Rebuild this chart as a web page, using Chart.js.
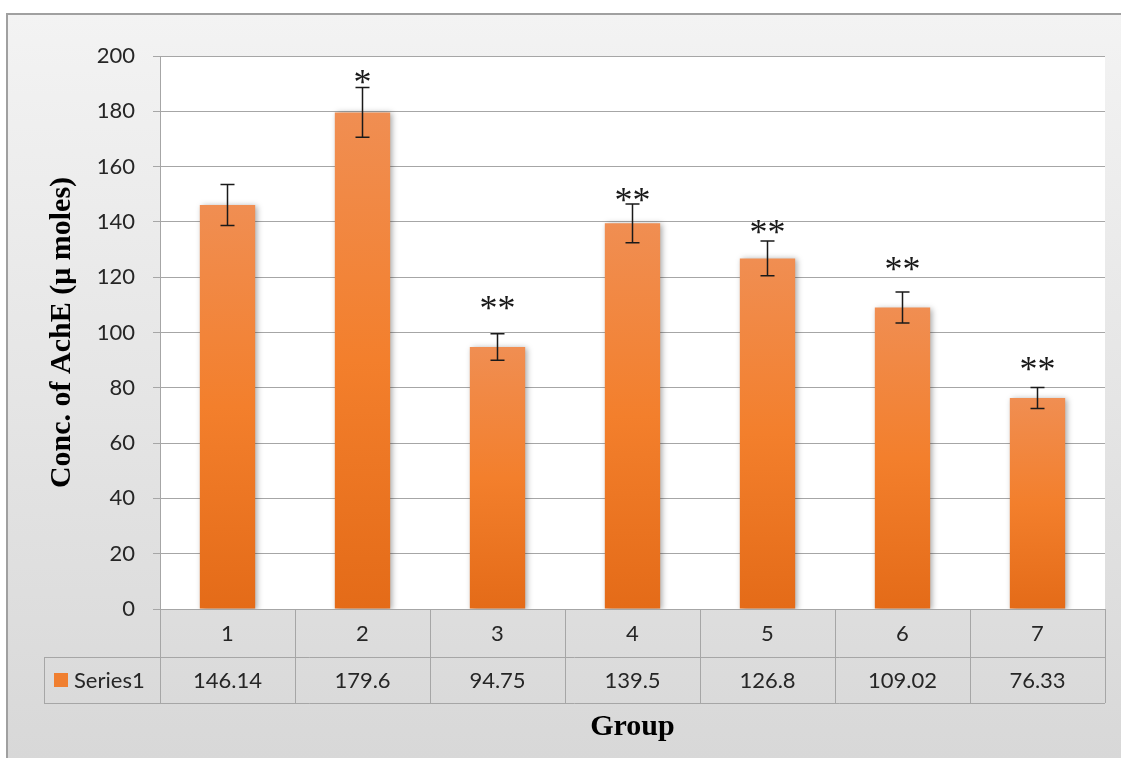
<!DOCTYPE html>
<html>
<head>
<meta charset="utf-8">
<script src="https://cdn.jsdelivr.net/npm/chart.js@4.4.1/dist/chart.umd.min.js"></script>
<style>
html,body{margin:0;padding:0;background:#fff;}
canvas{display:block;}
</style>
</head>
<body>
<canvas id="c" width="1121" height="758"></canvas>
<script>
// ---- data ----
const groups = ['1','2','3','4','5','6','7'];
const seriesName = 'Series1';
const values = [146.14, 179.6, 94.75, 139.5, 126.8, 109.02, 76.33];
const valueLabels = ['146.14','179.6','94.75','139.5','126.8','109.02','76.33'];
const errors = [7.4, 9.0, 4.8, 7.0, 6.3, 5.6, 3.8];
const significance = ['', '*', '**', '**', '**', '**', '**'];
const significanceLevel = [null, 192.4, 110.7, 149.7, 138.2, 124.8, 88.6];
const yTitle = 'Conc. of AchE (\u03bc moles)';
const xTitle = 'Group';

const PLOT_LEFT = 160, PLOT_TOP = 56, PLOT_BOTTOM = 609, PLOT_RIGHT = 1105;
const ROW1_BOTTOM = 657, ROW2_BOTTOM = 703, LEGEND_LEFT = 44;
const gridColor = '#a6a6a6';
const tickFont = '22px Lato';

function barGradient(ctx) {
  const chart = ctx.chart;
  if (!chart.chartArea || ctx.raw == null) return '#F07F30';
  const y = chart.scales.y;
  const top = y.getPixelForValue(ctx.raw);
  const bottom = y.getPixelForValue(0);
  const g = chart.ctx.createLinearGradient(0, top, 0, bottom);
  g.addColorStop(0, '#F08E52');
  g.addColorStop(0.5, '#F37F2C');
  g.addColorStop(1, '#E46B18');
  return g;
}

const backgroundPlugin = {
  id: 'bg',
  beforeDraw(chart) {
    const c = chart.ctx;
    c.save();
    c.fillStyle = '#ffffff';
    c.fillRect(0, 0, chart.width, chart.height);
    const g = c.createLinearGradient(0, 14, 0, chart.height);
    g.addColorStop(0, '#f3f3f3');
    g.addColorStop(1, '#d8d8d8');
    c.fillStyle = g;
    c.fillRect(7, 14, chart.width - 7, chart.height - 14);
    c.strokeStyle = '#a0a0a0';
    c.lineWidth = 2;
    c.beginPath();
    c.moveTo(7, chart.height);
    c.lineTo(7, 14);
    c.lineTo(chart.width, 14);
    c.stroke();
    const a = chart.chartArea;
    c.fillStyle = '#ffffff';
    c.fillRect(a.left, a.top, a.right - a.left, a.bottom - a.top);
    c.restore();
  }
};

const shadowPlugin = {
  id: 'shadow',
  beforeDatasetsDraw(chart) {
    const c = chart.ctx;
    c.save();
    c.shadowColor = 'rgba(0,0,0,0.35)';
    c.shadowBlur = 6;
    c.shadowOffsetX = 2;
    c.shadowOffsetY = 1;
  },
  afterDatasetsDraw(chart) {
    chart.ctx.restore();
  }
};

const errorPlugin = {
  id: 'errs',
  afterDatasetsDraw(chart) {
    const c = chart.ctx;
    const meta = chart.getDatasetMeta(0);
    const y = chart.scales.y;
    c.save();
    c.strokeStyle = '#1a1a1a';
    c.lineWidth = 1.5;
    c.font = '36px "Liberation Serif"';
    const m = c.measureText('*');
    const centerOff = (m.actualBoundingBoxAscent - m.actualBoundingBoxDescent) / 2;
    meta.data.forEach((bar, i) => {
      const x = bar.x;
      const t = y.getPixelForValue(values[i] + errors[i]);
      const b = y.getPixelForValue(values[i] - errors[i]);
      c.beginPath();
      c.moveTo(x, t); c.lineTo(x, b);
      c.moveTo(x - 7, t); c.lineTo(x + 7, t);
      c.moveTo(x - 7, b); c.lineTo(x + 7, b);
      c.stroke();
      const s = significance[i];
      if (s) {
        c.fillStyle = '#1a1a1a';
        c.textAlign = 'center';
        c.textBaseline = 'alphabetic';
        const cy = y.getPixelForValue(significanceLevel[i]) + centerOff;
        const k = s.length;
        for (let j = 0; j < k; j++) {
          const dx = (j - (k - 1) / 2) * 18;
          c.fillText('*', x + dx, cy);
        }
      }
    });
    c.restore();
  }
};

const tablePlugin = {
  id: 'table',
  afterDraw(chart) {
    const c = chart.ctx;
    const xs = chart.scales.x;
    const a = chart.chartArea;
    const n = groups.length;
    const w = (a.right - a.left) / n;
    c.save();
    c.strokeStyle = gridColor;
    c.lineWidth = 1;
    c.beginPath();
    for (let i = 0; i <= n; i++) {
      const x = Math.round(a.left + i * w) + 0.5;
      c.moveTo(x, a.bottom); c.lineTo(x, ROW2_BOTTOM);
    }
    c.moveTo(LEGEND_LEFT + 0.5, ROW1_BOTTOM); c.lineTo(LEGEND_LEFT + 0.5, ROW2_BOTTOM);
    c.moveTo(LEGEND_LEFT, ROW1_BOTTOM + 0.5); c.lineTo(a.right, ROW1_BOTTOM + 0.5);
    c.moveTo(LEGEND_LEFT, ROW2_BOTTOM + 0.5); c.lineTo(a.right, ROW2_BOTTOM + 0.5);
    c.stroke();
    c.fillStyle = '#262626';
    c.font = tickFont;
    c.textAlign = 'center';
    c.textBaseline = 'middle';
    for (let i = 0; i < n; i++) {
      const cx = xs.getPixelForValue(i);
      c.fillText(groups[i], cx, (a.bottom + ROW1_BOTTOM) / 2 + 1);
      c.fillText(valueLabels[i], cx, (ROW1_BOTTOM + ROW2_BOTTOM) / 2 + 1);
    }
    c.fillStyle = '#F07F30';
    c.fillRect(54, 673, 14, 14);
    c.fillStyle = '#262626';
    c.textAlign = 'left';
    c.fillText(seriesName, 74, (ROW1_BOTTOM + ROW2_BOTTOM) / 2 + 1);
    c.fillStyle = '#000';
    c.font = 'bold 30px "Liberation Serif"';
    c.textAlign = 'center';
    c.textBaseline = 'alphabetic';
    c.fillText(xTitle, (a.left + a.right) / 2, 735);
    c.save();
    c.translate(70, (a.top + a.bottom) / 2);
    c.rotate(-Math.PI / 2);
    c.fillText(yTitle, 0, 0);
    c.restore();
    c.restore();
  }
};

new Chart(document.getElementById('c'), {
  type: 'bar',
  data: {
    labels: groups,
    datasets: [{
      label: seriesName,
      data: values,
      backgroundColor: barGradient,
      borderWidth: 0,
      barPercentage: 0.41,
      categoryPercentage: 1.0
    }]
  },
  options: {
    responsive: false,
    animation: false,
    devicePixelRatio: 1,
    layout: { padding: { left: 0, top: PLOT_TOP, right: 1121 - PLOT_RIGHT, bottom: 758 - PLOT_BOTTOM } },
    plugins: { legend: { display: false }, tooltip: { enabled: false } },
    scales: {
      x: { display: false },
      y: {
        min: 0, max: 200,
        ticks: { stepSize: 20, color: '#262626', font: { family: 'Lato', size: 22 }, padding: 18 },
        grid: { color: gridColor, lineWidth: 1, tickLength: 7 },
        border: { display: true, color: gridColor, width: 1 },
        afterFit(scale) { scale.width = PLOT_LEFT; }
      }
    }
  },
  plugins: [backgroundPlugin, shadowPlugin, errorPlugin, tablePlugin]
});
</script>
</body>
</html>
